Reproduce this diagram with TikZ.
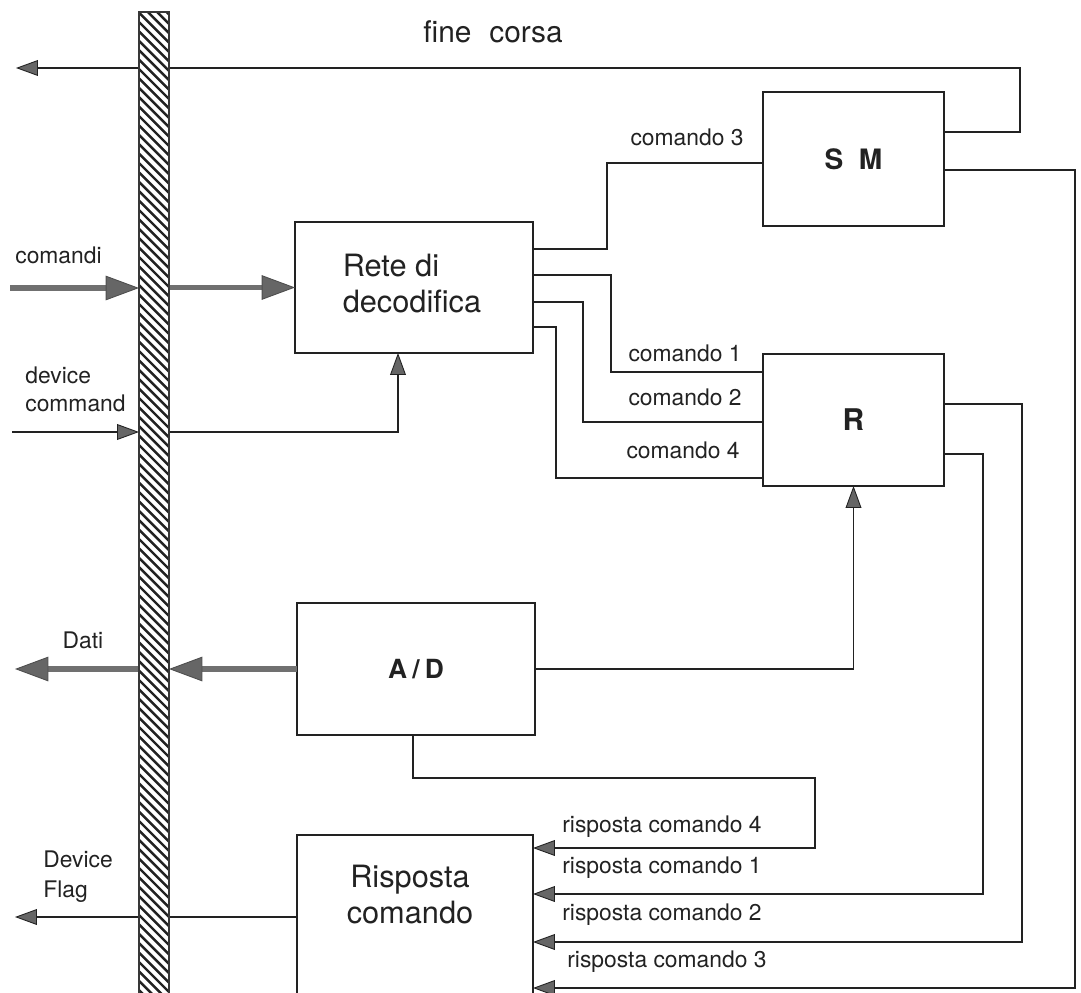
\documentclass[tikz,border=0pt]{standalone}
\usepackage{fontspec}
\setmainfont{TeX Gyre Heros}
\usetikzlibrary{arrows.meta}
\definecolor{ink}{HTML}{222222}
\definecolor{shaft}{HTML}{707070}
\definecolor{headfill}{HTML}{666666}

\begin{document}
\begin{tikzpicture}[x=0.02cm,y=-0.02cm,
  wire/.style={draw=ink, line width=0.9pt},
  flow/.style={wire, -{Triangle[length=12.5pt,width=9pt,line width=0.5pt,color=ink,fill=headfill]}},
  bigflow/.style={draw=shaft, line width=3.3pt,
    -{Triangle[length=19pt,width=14pt,line width=0.5pt,color=ink!80,fill=headfill]}},
  block/.style={draw=ink, line width=0.9pt, inner sep=0pt, outer sep=0pt, text=ink, align=center},
  boxtext/.style={text=ink, inner sep=0pt, font=\fontsize{17.5pt}{20.5pt}\selectfont},
  boldtext/.style={font=\bfseries\fontsize{16pt}{19pt}\selectfont},
  lbl/.style={text=ink, inner sep=0pt, font=\fontsize{13pt}{16pt}\selectfont},
  buspart/.style={inner sep=0pt, outer sep=0pt, minimum width=0.6cm, minimum height=19.62cm},
  busedge/.style={draw=ink!90, line width=1.1pt},
  hatch/.style={draw=ink, line width=1.4pt}
]
\useasboundingbox (0,0) rectangle (1081,993);

% system bus (filled here, hatched at the end so that wires pass under it)
\node[buspart] (bus) at (154,502.5) {};

% functional blocks
\node[block, minimum width=4.76cm, minimum height=2.62cm] (rete) at (414,287.5) {};
\node[boxtext, align=left] (retetext) at (412,284) {Rete di\\decodifica};
\node[block, boldtext, minimum width=3.62cm, minimum height=2.68cm] (sm) at (853.5,159) {S\hspace{0.55em}M};
\node[block, minimum width=3.62cm, minimum height=2.64cm, font=\bfseries\fontsize{17pt}{20pt}\selectfont] (r) at (853.5,420) {R};
\node[block, minimum width=4.76cm, minimum height=2.64cm, font=\bfseries\fontsize{15pt}{18pt}\selectfont] (ad) at (416,669) {A\hspace{0.2em}/\hspace{0.2em}D};
\node[inner sep=0pt, outer sep=0pt, minimum width=4.72cm, minimum height=3.16cm] (risp) at (415,914) {};
\draw[wire] (risp.south west) -- (risp.north west) -- (risp.north east) -- (risp.south east);
\node[boxtext, align=center] (risptext) at (410,895) {Risposta\\comando};

% fine corsa feedback from S M
\coordinate (fc1) at (1020,132);
\coordinate (fc2) at (1020,68);
\coordinate (fcend) at (16,68);
\draw[flow] (sm.east |- fc1) -- (fc1) -- (fc2) -- (fcend);
\node[text=ink, inner sep=0pt, font=\fontsize{17pt}{20pt}\selectfont] (fclabel) at (493,32) {fine\hspace{0.6em}corsa};

% command lines from the decoder
\coordinate (c3a) at (607,249);
\coordinate (c3b) at (607,163);
\draw[wire] (rete.east |- c3a) -- (c3a) -- (c3b) -- (sm.west |- c3b);
\coordinate (c1a) at (611,275);
\coordinate (c1b) at (611,372);
\draw[wire] (rete.east |- c1a) -- (c1a) -- (c1b) -- (r.west |- c1b);
\coordinate (c2a) at (583,302);
\coordinate (c2b) at (583,422);
\draw[wire] (rete.east |- c2a) -- (c2a) -- (c2b) -- (r.west |- c2b);
\coordinate (c4a) at (556,327);
\coordinate (c4b) at (556,478);
\draw[wire] (rete.east |- c4a) -- (c4a) -- (c4b) -- (r.west |- c4b);
\node[lbl] (l3) at (687,137) {comando 3};
\node[lbl] (l1) at (685,353) {comando 1};
\node[lbl] (l2) at (685,397) {comando 2};
\node[lbl] (l4) at (683,450) {comando 4};

% responses back to the response block
\coordinate (r3a) at (1075,170);
\coordinate (r3b) at (1075,988);
\draw[flow] (sm.east |- r3a) -- (r3a) -- (r3b) -- (risp.east |- r3b);
\coordinate (r2a) at (1022,404);
\coordinate (r2b) at (1022,942);
\draw[flow] (r.east |- r2a) -- (r2a) -- (r2b) -- (risp.east |- r2b);
\coordinate (r1a) at (983,454);
\coordinate (r1b) at (983,894);
\draw[flow] (r.east |- r1a) -- (r1a) -- (r1b) -- (risp.east |- r1b);
\coordinate (r4a) at (413,778);
\coordinate (r4b) at (815,778);
\coordinate (r4c) at (815,848);
\draw[flow] (ad.south -| r4a) -- (r4a) -- (r4b) -- (r4c) -- (risp.east |- r4c);
\node[lbl, anchor=west] (lr4) at (562,827) {risposta comando 4};
\node[lbl, anchor=west] (lr1) at (562,868) {risposta comando 1};
\node[lbl, anchor=west] (lr2) at (562,915) {risposta comando 2};
\node[lbl, anchor=west] (lr3) at (567,962) {risposta comando 3};

% A/D to R
\draw[flow] (ad.east) -- (r.south |- ad.east) -- (r.south);

% data out through the bus
\coordinate (datiend) at (15,669);
\draw[bigflow] (ad.west) -- (bus.east |- ad.west);
\draw[bigflow] (bus.west |- ad.west) -- (datiend);
\node[lbl] (dati) at (83,640) {Dati};

% commands in through the bus
\coordinate (cmdstart) at (10,288);
\draw[bigflow] (cmdstart) -- (bus.west |- cmdstart);
\draw[bigflow] (bus.east |- rete.west) -- (rete.west);
\node[lbl, anchor=west] (comandi) at (15,255) {comandi};

% device command
\coordinate (dcstart) at (12,432);
\coordinate (dcbend) at (398,432);
\draw[flow] (dcstart) -- (bus.west |- dcstart);
\draw[flow] (bus.east |- dcbend) -- (dcbend) -- (rete.south -| dcbend);
\node[lbl, anchor=west, align=left] (devcmd) at (25,389) {device\\command};

% device flag
\coordinate (dfend) at (15,917);
\draw[wire] (risp.west |- dfend) -- (bus.east |- dfend);
\draw[flow] (bus.west |- dfend) -- (dfend);
\node[lbl, anchor=west, align=left, font=\fontsize{13pt}{17pt}\selectfont] (devflag) at (43,877) {Device\\Flag};

% hatched bus drawn over the crossing lines
\fill[white] (bus.south west) rectangle (bus.north east);
\begin{scope}
  \clip (bus.south west) rectangle (bus.north east);
  \foreach \k in {0,...,110}
    \draw[hatch] (139,\k*9.4-25) -- ++(30,30);
\end{scope}
\draw[busedge] (bus.south west) -- (bus.north west) -- (bus.north east) -- (bus.south east);
\end{tikzpicture}
\end{document}
